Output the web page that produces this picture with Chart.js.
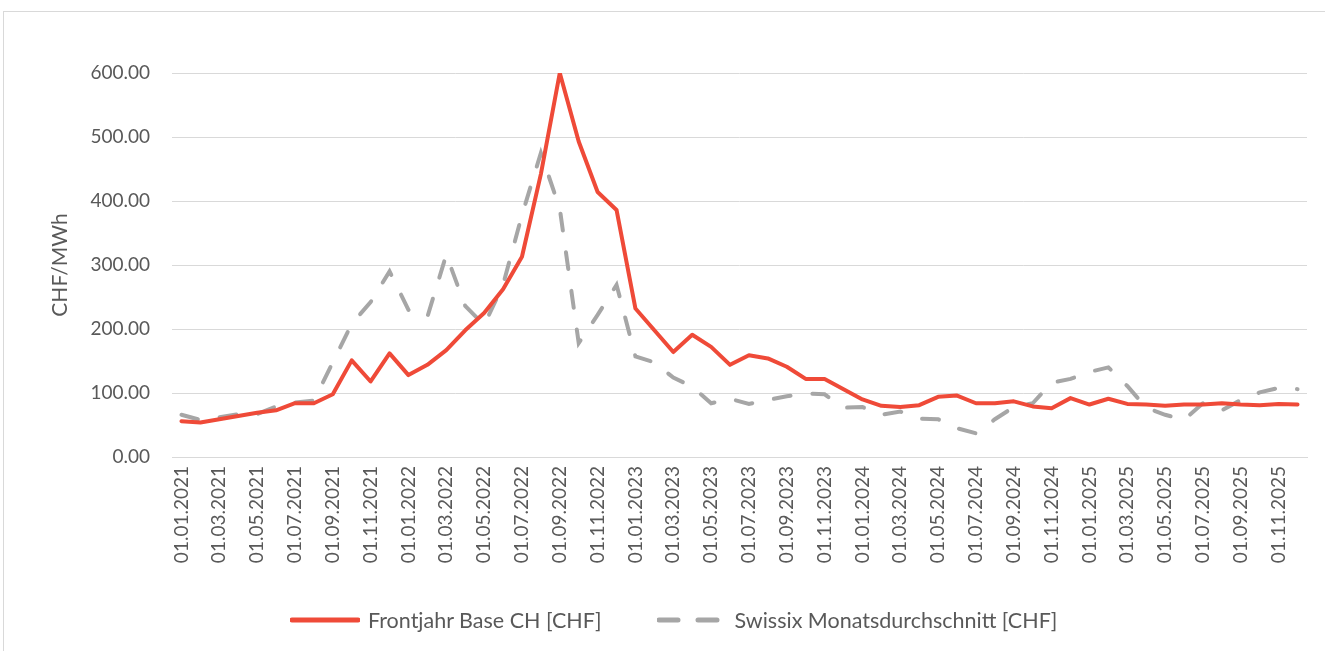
<!DOCTYPE html>
<html>
<head>
<meta charset="utf-8">
<script src="https://cdn.jsdelivr.net/npm/chart.js@4.4.0/dist/chart.umd.min.js"></script>
<style>
  body { margin: 0; background: #fff; }
  #wrap { position: relative; width: 1325px; height: 651px; overflow: hidden; }
  #frame { position: absolute; left: 3px; top: 11px; width: 1340px; height: 660px; border: 1px solid #d9d9d9; }
  #chart { position: absolute; left: 0; top: 0; }
  #legend { position: absolute; left: 290px; top: 607px; display: flex; align-items: center;
            font-family: Lato, sans-serif; font-size: 21.5px; color: #595959; }
  .item { display: flex; align-items: center; margin-right: 55px; }
  .item svg { margin-right: 8px; }
</style>
</head>
<body>
<div id="wrap">
  <div id="frame"></div>
  <canvas id="chart" width="1325" height="651"></canvas>
  <div id="legend"></div>
</div>
<script>
'use strict';

const months = [
  '01.01.2021','01.02.2021','01.03.2021','01.04.2021','01.05.2021','01.06.2021',
  '01.07.2021','01.08.2021','01.09.2021','01.10.2021','01.11.2021','01.12.2021',
  '01.01.2022','01.02.2022','01.03.2022','01.04.2022','01.05.2022','01.06.2022',
  '01.07.2022','01.08.2022','01.09.2022','01.10.2022','01.11.2022','01.12.2022',
  '01.01.2023','01.02.2023','01.03.2023','01.04.2023','01.05.2023','01.06.2023',
  '01.07.2023','01.08.2023','01.09.2023','01.10.2023','01.11.2023','01.12.2023',
  '01.01.2024','01.02.2024','01.03.2024','01.04.2024','01.05.2024','01.06.2024',
  '01.07.2024','01.08.2024','01.09.2024','01.10.2024','01.11.2024','01.12.2024',
  '01.01.2025','01.02.2025','01.03.2025','01.04.2025','01.05.2025','01.06.2025',
  '01.07.2025','01.08.2025','01.09.2025','01.10.2025','01.11.2025','01.12.2025'
];

// Frontjahr Base CH [CHF]
const frontjahr = [
  56, 54, 59, 64, 69, 73, 84, 84, 98, 151, 118, 162,
  128, 144, 167, 198, 225, 262, 313, 442, 600, 493, 414, 386,
  232, 198, 164, 191, 172, 144, 159, 154, 141, 122, 122, 106,
  90, 80, 78, 81, 94, 96, 84, 84, 87, 79, 76, 92,
  82, 91, 83, 82, 80, 82, 82, 84, 82, 81, 83, 82
];

// Swissix Monatsdurchschnitt [CHF]
const swissix = [
  66, 58, 62, 67, 67, 79, 85, 88, 148, 208, 242, 290,
  230, 219, 316, 236, 206, 269, 378, 475, 388, 178, 222, 269,
  157, 148, 124, 110, 84, 91, 83, 89, 95, 99, 98, 77,
  78, 66, 71, 60, 59, 45, 37, 59, 78, 84, 116, 122,
  133, 140, 111, 77, 66, 58, 84, 73, 89, 101, 108, 106
];

const seriesNames = ['Frontjahr Base CH [CHF]', 'Swissix Monatsdurchschnitt [CHF]'];
const yTicks = [0, 100, 200, 300, 400, 500, 600];

const textColor = '#595959';
const gridColor = '#d9d9d9';
const fontName = 'Lato, sans-serif';

const data = {
  labels: months,
  datasets: [
    {
      label: seriesNames[0],
      data: frontjahr,
      borderColor: '#ef4a38',
      backgroundColor: '#ef4a38',
      borderWidth: 4,
      pointRadius: 0,
      tension: 0,
      borderJoinStyle: 'round',
      borderCapStyle: 'round',
      order: 1
    },
    {
      label: seriesNames[1],
      data: swissix,
      borderColor: '#a6a6a6',
      backgroundColor: '#a6a6a6',
      borderWidth: 4,
      borderDash: [17, 22],
      borderCapStyle: 'round',
      pointRadius: 0,
      tension: 0,
      order: 2
    }
  ]
};

const config = {
  type: 'line',
  data: data,
  options: {
    responsive: false,
    animation: false,
    layout: { padding: { left: 48, top: 73, right: 18, bottom: 54 } },
    plugins: {
      legend: { display: false },
      tooltip: { enabled: false }
    },
    scales: {
      x: {
        offset: true,
        grid: { display: false, drawTicks: false, offset: true },
        border: { display: true, color: gridColor, width: 1 },
        ticks: {
          autoSkip: false,
          minRotation: 90,
          maxRotation: 90,
          padding: 9,
          color: textColor,
          font: { family: fontName, size: 19 },
          callback: function (value, index) {
            return index % 2 === 0 ? months[index] : '';
          }
        },
        afterFit: function (scale) {
          scale.height = 140;
          scale.paddingLeft = 0;
          scale.paddingRight = 0;
        }
      },
      y: {
        min: 0,
        max: 600,
        afterBuildTicks: function (scale) {
          scale.ticks = yTicks.map(v => ({ value: v }));
        },
        grid: { color: gridColor, lineWidth: 1, drawTicks: false },
        border: { display: false },
        ticks: {
          padding: 22,
          color: textColor,
          font: { family: fontName, size: 19 },
          callback: v => v.toFixed(2)
        },
        title: {
          display: true,
          text: 'CHF/MWh',
          color: textColor,
          padding: 0,
          font: { family: fontName, size: 21 }
        },
        afterFit: function (scale) { scale.width = 124; }
      }
    }
  }
};

const myChart = new Chart(document.getElementById('chart'), config);

// legend below the plot
const legendElem = document.getElementById('legend');
data.datasets.forEach(ds => {
  const item = document.createElement('div');
  item.className = 'item';
  const dash = ds.borderDash ? 'stroke-dasharray="19 20"' : '';
  item.innerHTML =
    '<svg width="70" height="10"><line x1="2" y1="5" x2="68" y2="5" stroke="' + ds.borderColor +
    '" stroke-width="5" stroke-linecap="round" ' + dash + '/></svg><span>' + ds.label + '</span>';
  legendElem.appendChild(item);
});
</script>
</body>
</html>
